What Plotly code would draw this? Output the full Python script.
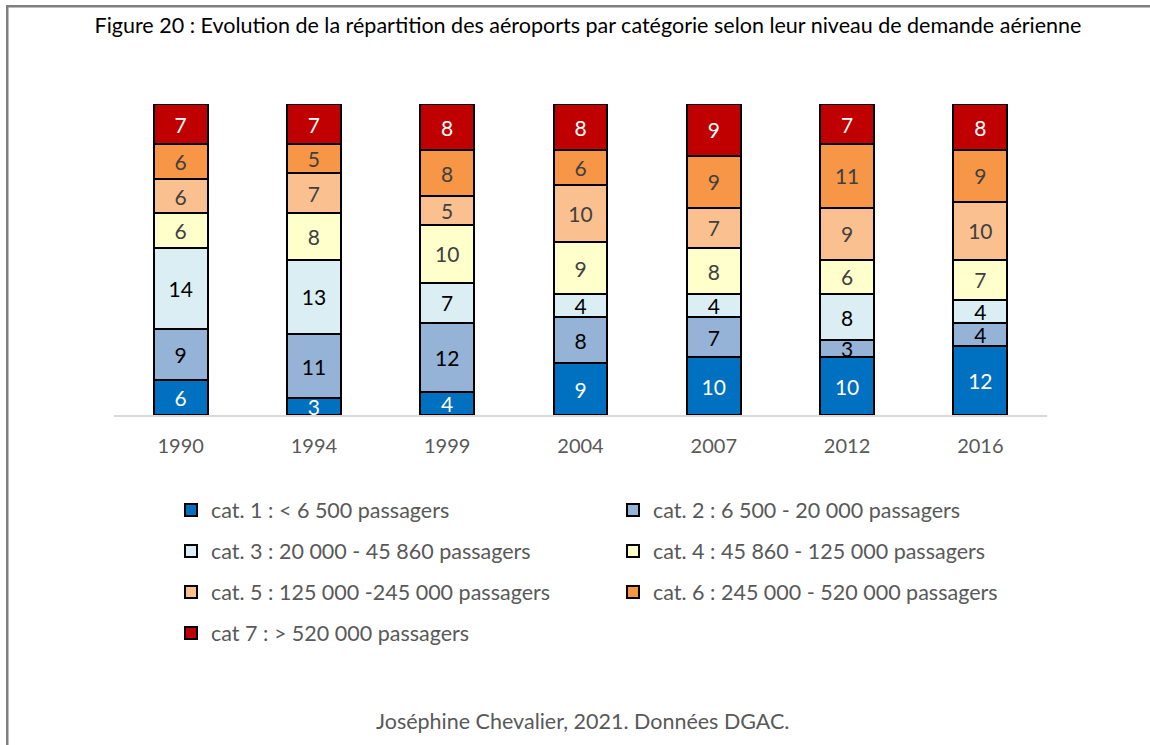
import plotly.graph_objects as go

years = ["1990", "1994", "1999", "2004", "2007", "2012", "2016"]
categories = [
    "cat. 1 : < 6 500 passagers",
    "cat. 2 : 6 500 - 20 000 passagers",
    "cat. 3 : 20 000 - 45 860 passagers",
    "cat. 4 : 45 860 - 125 000 passagers",
    "cat. 5 : 125 000 -245 000 passagers",
    "cat. 6 : 245 000 - 520 000 passagers",
    "cat 7 : > 520 000 passagers",
]
cat1 = [6, 3, 4, 9, 10, 10, 12]
cat2 = [9, 11, 12, 8, 7, 3, 4]
cat3 = [14, 13, 7, 4, 4, 8, 4]
cat4 = [6, 8, 10, 9, 8, 6, 7]
cat5 = [6, 7, 5, 10, 7, 9, 10]
cat6 = [6, 5, 8, 6, 9, 11, 9]
cat7 = [7, 7, 8, 8, 9, 7, 8]
series = [cat1, cat2, cat3, cat4, cat5, cat6, cat7]

colors = ["#0070C0", "#95B3D7", "#DAEEF3", "#FFFFCC", "#FAC090", "#F79646", "#C00000"]
text_colors = ["#FFFFFF", "#000000", "#000000", "#404040", "#404040", "#404040", "#FFFFFF"]
legend_ids = ["legend", "legend", "legend2", "legend2", "legend3", "legend3", "legend4"]

FONT = "Lato, 'DejaVu Sans', sans-serif"

# plot area pixel geometry
L, R, T, B = 114, 103, 104, 330
W = 1150 - L - R
H = 745 - T - B

def px(xp):
    return (xp - L) / W

def py(yp):
    return (745 - B - yp) / H

fig = go.Figure()
for name, vals, c, tc, lg in zip(categories, series, colors, text_colors, legend_ids):
    fig.add_trace(go.Bar(
        x=years, y=vals, name=name,
        marker=dict(color=c, line=dict(color="#000000", width=2)),
        text=vals, textposition="inside", insidetextanchor="middle",
        textangle=0, constraintext="none",
        textfont=dict(family=FONT, size=21, color=tc),
        legend=lg, hoverinfo="skip",
    ))

legend_common = dict(
    orientation="h", xanchor="left", yanchor="middle",
    entrywidth=397, entrywidthmode="pixels",
    font=dict(family=FONT, size=21.5, color="#595959"),
    bgcolor="rgba(0,0,0,0)", traceorder="normal",
)
rows_y = [510, 551, 592, 633]
fig.update_layout(
    legend=dict(x=px(171), y=py(rows_y[0]), **legend_common),
    legend2=dict(x=px(171), y=py(rows_y[1]), **legend_common),
    legend3=dict(x=px(171), y=py(rows_y[2]), **legend_common),
    legend4=dict(x=px(171), y=py(rows_y[3]), **legend_common),
)

fig.update_layout(
    width=1150, height=745,
    margin=dict(l=L, r=R, t=T, b=B),
    barmode="stack", bargap=0.595,
    paper_bgcolor="white", plot_bgcolor="white",
    uniformtext=dict(minsize=21, mode="show"),
    title=dict(
        text="Figure 20 : Evolution de la répartition des aéroports par catégorie selon leur niveau de demande aérienne",
        x=px(588), xanchor="center", xref="paper", y=1 - 25 / 745, yanchor="middle",
        font=dict(family=FONT, size=21.5, color="#000000"),
    ),
    xaxis=dict(
        showline=True, linecolor="#D9D9D9", linewidth=2, ticks="",
        tickfont=dict(family=FONT, size=20, color="#595959"),
        ticklabelstandoff=12, showgrid=False, zeroline=False,
    ),
    yaxis=dict(range=[0, 54], visible=False, showgrid=False, zeroline=False),
    showlegend=True,
)

# frame around the figure (right and bottom edges fall outside the picture)
fig.add_shape(type="rect", xref="paper", yref="paper", layer="below",
              x0=px(6), x1=px(8.5), y0=py(5), y1=py(745),
              fillcolor="#7F7F7F", line=dict(width=0))
fig.add_shape(type="rect", xref="paper", yref="paper", layer="below",
              x0=px(6), x1=px(1150), y0=py(5), y1=py(7.5),
              fillcolor="#7F7F7F", line=dict(width=0))
# top edge also as a thin filled annotation box (drawn in the upper layer)
fig.add_annotation(
    text=" ", xref="paper", yref="paper", x=px(6), y=py(5),
    xanchor="left", yanchor="top", showarrow=False,
    width=1144, height=2, bgcolor="#7F7F7F", borderpad=0, borderwidth=0,
    font=dict(size=1),
)

fig.add_annotation(
    text="Joséphine Chevalier, 2021. Données DGAC.",
    xref="paper", yref="paper", x=px(582), y=py(721),
    xanchor="center", yanchor="middle", showarrow=False,
    font=dict(family=FONT, size=21.5, color="#595959"),
)

fig.write_html("out.html", config={"displayModeBar": False},
               post_script="document.body.style.margin='0';")
